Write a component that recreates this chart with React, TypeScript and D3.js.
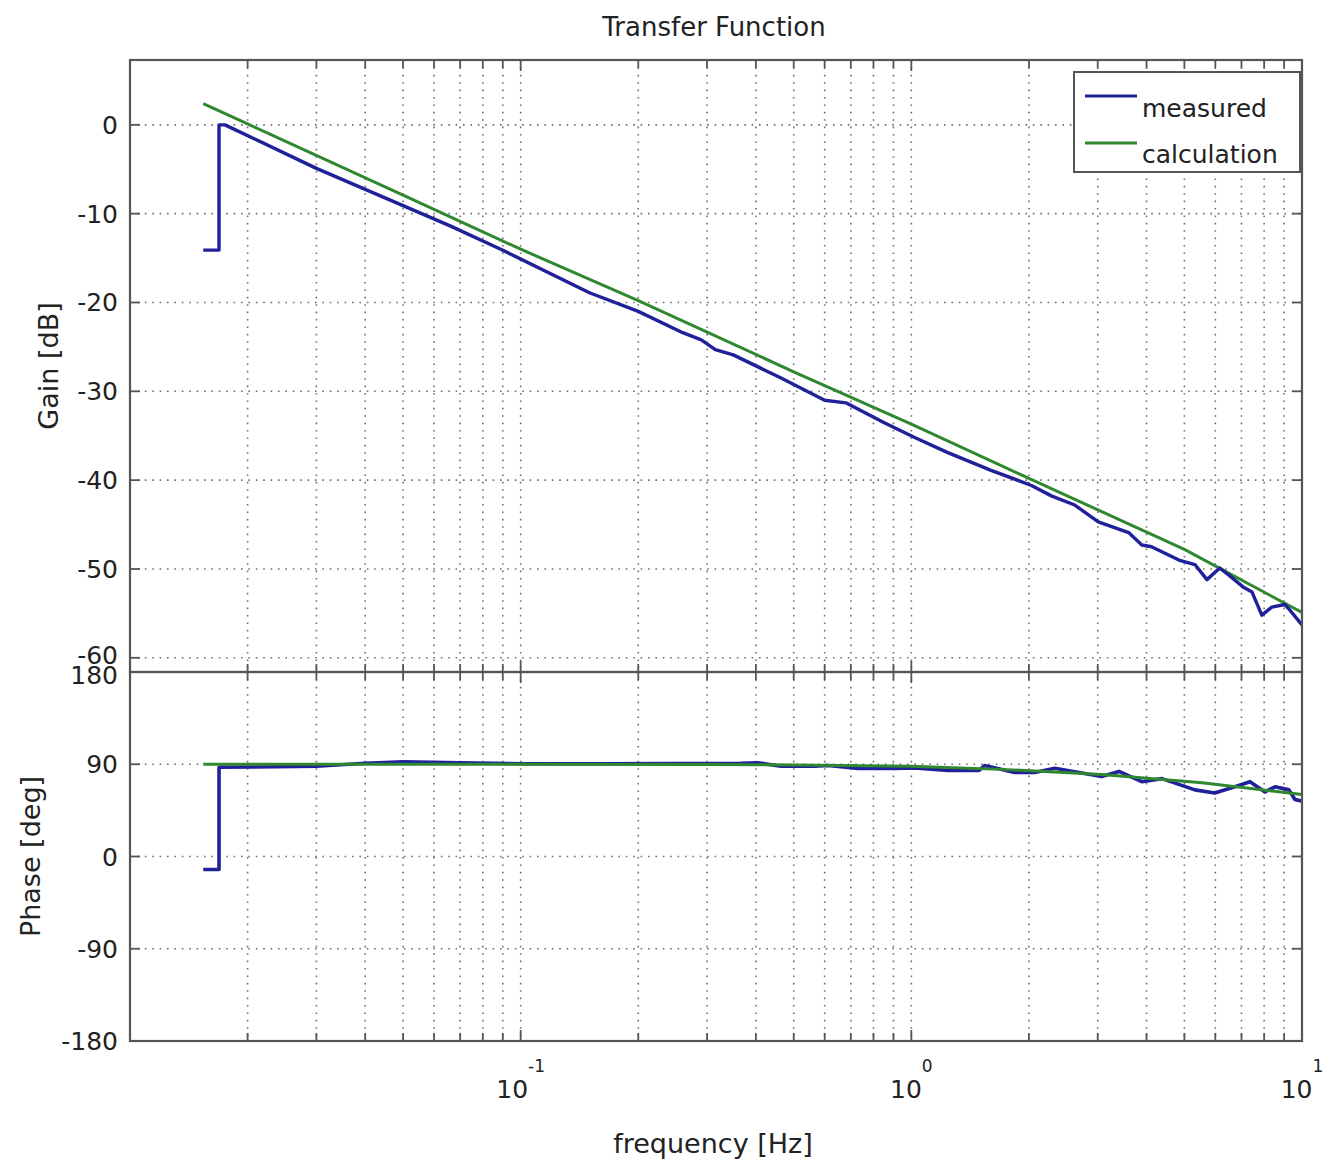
import * as d3 from "d3";

// ---- data ----
const calcGainFreq = [0.0154, 0.02, 0.05, 0.1, 0.2, 0.5, 1, 2, 5, 10];
const calcGain = [2.4, 0.1, -7.9, -14.0, -19.8, -27.8, -33.7, -39.8, -47.8, -54.9];

const calcPhaseFreq = [0.0154, 0.1, 0.3, 0.5, 1, 1.7, 3.07, 5.55, 10];
const calcPhase = [90, 90, 89.8, 89.3, 88, 85, 80, 72, 60.5];

const measGainFreq = [
  0.0154, 0.0169, 0.0169, 0.0175, 0.03, 0.0662, 0.0889, 0.15, 0.2, 0.26, 0.29, 0.315,
  0.35, 0.464, 0.6, 0.68, 0.85, 1.02, 1.24, 1.6, 2.03, 2.29, 2.62, 3.01, 3.6, 3.89,
  4.12, 4.84, 5.32, 5.71, 6.16, 6.5, 7.1, 7.45, 7.89, 8.37, 9.04, 9.3, 10,
];
const measGain = [
  -14.1, -14.1, 0.0, 0.0, -4.9, -11.4, -14.0, -18.9, -21.0, -23.4, -24.2, -25.3,
  -25.9, -28.5, -31.0, -31.3, -33.5, -35.2, -36.9, -38.9, -40.6, -41.8, -42.8, -44.7, -45.9, -47.3,
  -47.5, -49.0, -49.5, -51.2, -49.9, -50.7, -52.1, -52.6, -55.2, -54.3, -54.0, -54.6, -56.3,
];

const measPhaseFreq = [
  0.0154, 0.0169, 0.0169, 0.03, 0.04, 0.05, 0.07, 0.1, 0.16, 0.366, 0.405, 0.464, 0.564,
  0.613, 0.731, 0.904, 1.018, 1.24, 1.49, 1.54, 1.84, 2.07, 2.33, 3.07, 3.4, 3.89, 4.38,
  5.32, 5.98, 6.73, 7.36, 8.04, 8.53, 9.26, 9.59, 10,
];
const measPhase = [
  -12.7, -12.7, 87, 88, 91, 92.5, 91.5, 90.5, 90.5, 91, 91.5, 88, 88,
  88.8, 86, 86, 86.5, 84, 84, 88.8, 82, 82, 86, 78, 83, 73, 76,
  65, 62, 68, 73, 63, 68, 65, 55.6, 54,
];

const gainTicks = [0, -10, -20, -30, -40, -50, -60];
const phaseTicks = [180, 90, 0, -90, -180];
const xMajorTicks = [0.1, 1, 10];
const xMajorExponents = ["-1", "0", "1"];
const seriesNames = ["measured", "calculation"];
const seriesColors = ["#20209a", "#2f882f"];

const W = 1327;
const H = 1162;
const left = 130;
const right = 1302;
const gainTop = 60;
const split = 672;
const phaseBottom = 1041;

const font = "'DejaVu Sans', sans-serif";
const axisColor = "#555";
const gridColor = "#6f6f6f";

export default function App() {
  const x = d3.scaleLog().domain([0.01, 10]).range([left, right]);
  const yG = d3.scaleLinear().domain([-61.6, 7.3]).range([split, gainTop]);
  const yP = d3.scaleLinear().domain([-180, 180]).range([phaseBottom, split]);

  const xTicks = x.ticks();
  const innerTicks = xTicks.filter((t) => x(t) > left + 1 && x(t) < right - 1);
  const isMajor = (t: number) => Math.abs(Math.log10(t) - Math.round(Math.log10(t))) < 1e-6;

  const lineG = (fs: number[], vs: number[]) =>
    d3.line<number>().x((_, i) => x(fs[i])).y((v) => yG(v))(vs) || "";
  const lineP = (fs: number[], vs: number[]) =>
    d3.line<number>().x((_, i) => x(fs[i])).y((v) => yP(v))(vs) || "";

  const panels = [
    { top: gainTop, bottom: split },
    { top: split, bottom: phaseBottom },
  ];

  return (
    <svg
      width={W}
      height={H}
      style={{ position: "absolute", left: 0, top: 0, background: "#fff" }}
      fontFamily={font}
    >
      <defs>
        <clipPath id="clipG">
          <rect x={left} y={gainTop} width={right - left} height={split - gainTop} />
        </clipPath>
        <clipPath id="clipP">
          <rect x={left} y={split} width={right - left} height={phaseBottom - split} />
        </clipPath>
      </defs>

      {/* vertical grid */}
      {panels.map((p, pi) =>
        innerTicks.map((t, i) => (
          <line
            key={`vg${pi}-${i}`}
            x1={x(t)}
            x2={x(t)}
            y1={p.top}
            y2={p.bottom}
            stroke={gridColor}
            strokeWidth={1.6}
            strokeDasharray="1.6,5.8"
          />
        ))
      )}
      {/* horizontal grid */}
      {gainTicks.map((t) => (
        <line key={`hg${t}`} x1={left} x2={right} y1={yG(t)} y2={yG(t)}
          stroke={gridColor} strokeWidth={1.6} strokeDasharray="1.6,5.8" />
      ))}
      {phaseTicks.slice(1, -1).map((t) => (
        <line key={`hp${t}`} x1={left} x2={right} y1={yP(t)} y2={yP(t)}
          stroke={gridColor} strokeWidth={1.6} strokeDasharray="1.6,5.8" />
      ))}

      {/* data */}
      <g clipPath="url(#clipG)" fill="none" strokeLinejoin="round">
        <path d={lineG(calcGainFreq, calcGain)} stroke={seriesColors[1]} strokeWidth={3} />
        <path d={lineG(measGainFreq, measGain)} stroke={seriesColors[0]} strokeWidth={3.4} />
      </g>
      <g clipPath="url(#clipP)" fill="none" strokeLinejoin="round">
        <path d={lineP(measPhaseFreq, measPhase)} stroke={seriesColors[0]} strokeWidth={3.6} />
        <path d={lineP(calcPhaseFreq, calcPhase)} stroke={seriesColors[1]} strokeWidth={3} />
      </g>

      {/* x tick marks */}
      {panels.map((p, pi) =>
        innerTicks.map((t, i) => {
          const len = isMajor(t) ? 11 : 8;
          return (
            <g key={`xt${pi}-${i}`} stroke={axisColor} strokeWidth={1.8}>
              <line x1={x(t)} x2={x(t)} y1={p.bottom} y2={p.bottom - len} />
              <line x1={x(t)} x2={x(t)} y1={p.top} y2={p.top + len} />
            </g>
          );
        })
      )}
      {/* y tick marks */}
      {gainTicks.map((t) => (
        <g key={`ygt${t}`} stroke={axisColor} strokeWidth={1.8}>
          <line x1={left} x2={left + 10} y1={yG(t)} y2={yG(t)} />
          <line x1={right} x2={right - 10} y1={yG(t)} y2={yG(t)} />
        </g>
      ))}
      {phaseTicks.map((t) => (
        <g key={`ypt${t}`} stroke={axisColor} strokeWidth={1.8}>
          <line x1={left} x2={left + 10} y1={yP(t)} y2={yP(t)} />
          <line x1={right} x2={right - 10} y1={yP(t)} y2={yP(t)} />
        </g>
      ))}

      {/* axes boxes */}
      {panels.map((p, pi) => (
        <rect key={`box${pi}`} x={left} y={p.top} width={right - left} height={p.bottom - p.top}
          fill="none" stroke={axisColor} strokeWidth={2.2} />
      ))}

      {/* y tick labels */}
      {gainTicks.map((t) => (
        <text key={`ygl${t}`} x={left - 12} y={t === -60 ? yG(t) - 3 : yG(t)} dy="0.36em" textAnchor="end"
          fontSize={25} fill="#222">{t}</text>
      ))}
      {phaseTicks.map((t) => (
        <text key={`ypl${t}`} x={left - 12} y={t === 180 ? yP(t) + 3 : yP(t)} dy="0.36em" textAnchor="end"
          fontSize={25} fill="#222">{t}</text>
      ))}

      {/* x tick labels */}
      {xMajorTicks.map((t, i) => (
        <text key={`xl${t}`} x={x(t)} y={1098} textAnchor="middle" fontSize={25} fill="#222">
          10<tspan dy={-26} fontSize={17}>{xMajorExponents[i]}</tspan>
        </text>
      ))}

      {/* titles */}
      <text x={714} y={36} textAnchor="middle" fontSize={26} fill="#222">Transfer Function</text>
      <text x={713} y={1153} textAnchor="middle" fontSize={27} fill="#222">frequency [Hz]</text>
      <text transform={`translate(58,${(gainTop + split) / 2}) rotate(-90)`} textAnchor="middle"
        fontSize={27} fill="#222">Gain [dB]</text>
      <text transform={`translate(40,${(split + phaseBottom) / 2}) rotate(-90)`} textAnchor="middle"
        fontSize={27} fill="#222">Phase [deg]</text>

      {/* legend */}
      <g>
        <rect x={1074} y={72} width={226} height={100} fill="#fff" stroke={axisColor} strokeWidth={2} />
        {seriesNames.map((name, i) => (
          <g key={name}>
            <line x1={1085} x2={1137} y1={96 + i * 47} y2={96 + i * 47}
              stroke={seriesColors[i]} strokeWidth={3} />
            <text x={1142} y={117 + i * 46} fontSize={25} fill="#222">{name}</text>
          </g>
        ))}
      </g>
    </svg>
  );
}
